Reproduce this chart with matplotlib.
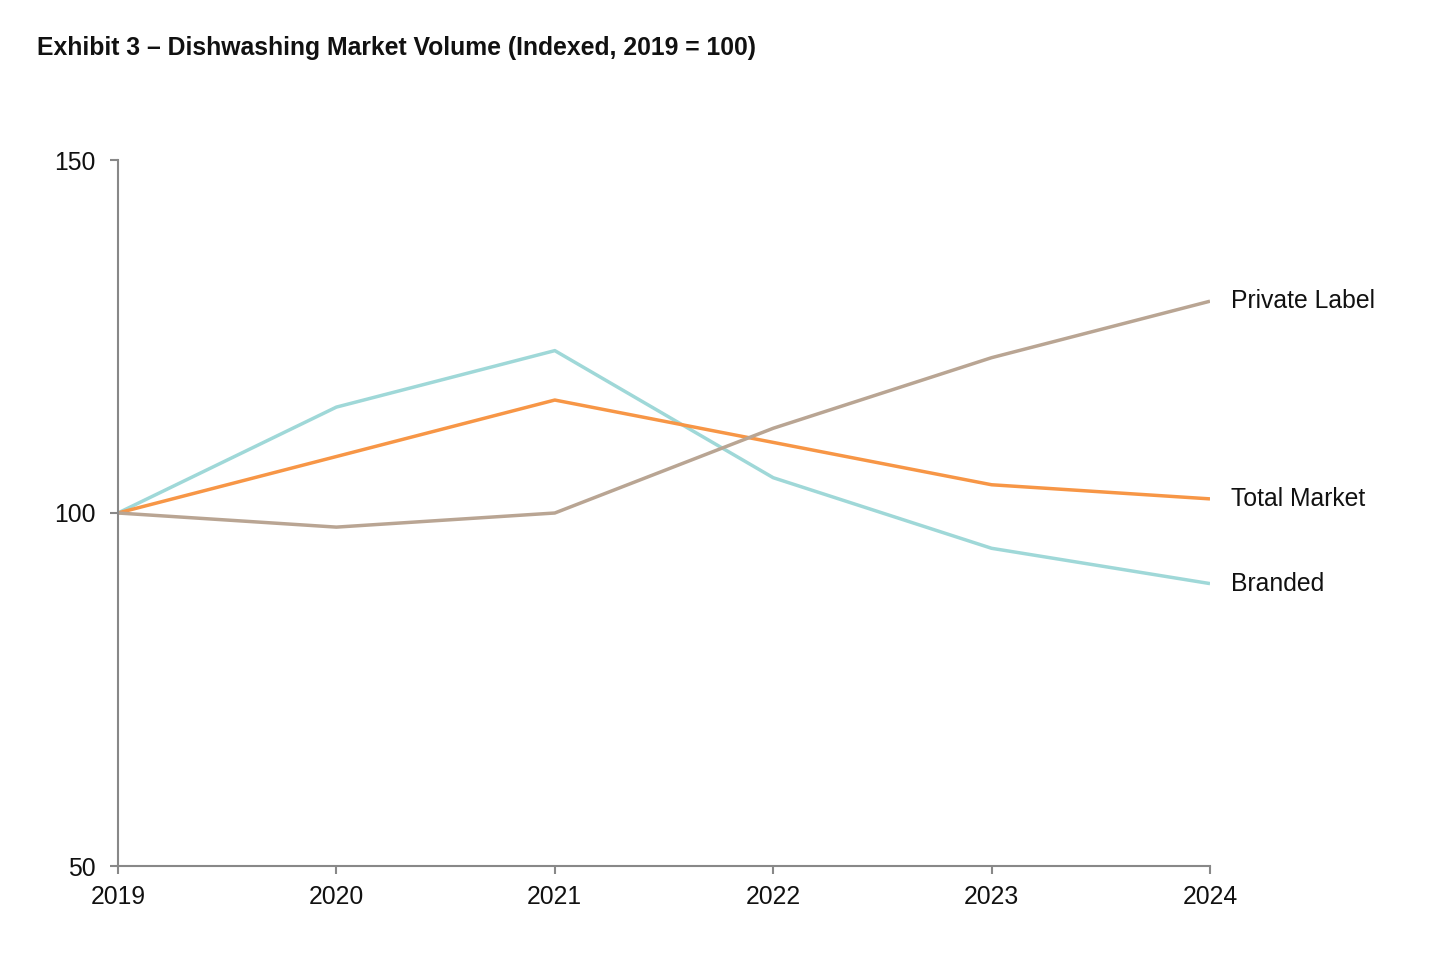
import matplotlib
matplotlib.use("Agg")
import matplotlib.pyplot as plt

years = [2019, 2020, 2021, 2022, 2023, 2024]
branded = [100, 115, 123, 105, 95, 90]
total_market = [100, 108, 116, 110, 104, 102]
private_label = [100, 98, 100, 112, 122, 130]
series_names = ["Branded", "Total Market", "Private Label"]
series_colors = ["#9FD8D8", "#F79646", "#B9A593"]
y_ticks = [50, 100, 150]

plt.rcParams['font.family'] = ['Liberation Sans', 'DejaVu Sans']

fig = plt.figure(figsize=(14.4, 9.59), dpi=100)
ax = fig.add_axes([118/1440, 1-866/959, (1210-118)/1440, (866-160)/959])

for vals, name, col in zip([branded, total_market, private_label], series_names, series_colors):
    ax.plot(years, vals, color=col, lw=2.5, solid_capstyle='butt')
    ax.annotate(name, xy=(years[-1], vals[-1]), xytext=(15, 0), textcoords='offset points',
                va='center', ha='left', fontsize=17.8, color='#111111')

ax.set_xlim(2019, 2024)
ax.set_ylim(50, 150)
ax.set_yticks(y_ticks)
ax.set_xticks(years)
ax.set_xticklabels([str(y) for y in years])
for s in ['top', 'right']:
    ax.spines[s].set_visible(False)
for s in ['left', 'bottom']:
    ax.spines[s].set_color('#888888')
    ax.spines[s].set_linewidth(1.5)
ax.tick_params(axis='both', colors='#888888', width=1.5, length=6, labelcolor='#111111', labelsize=17.8)
ax.tick_params(axis='y', pad=10)
ax.tick_params(axis='x', pad=8)

fig.text(37/1440, 1-48/959, "Exhibit 3 \u2013 Dishwashing Market Volume (Indexed, 2019 = 100)",
         fontsize=17.8, fontweight='bold', va='center', ha='left', color='#111111')

fig.savefig("out.png", dpi=100, facecolor='white')
